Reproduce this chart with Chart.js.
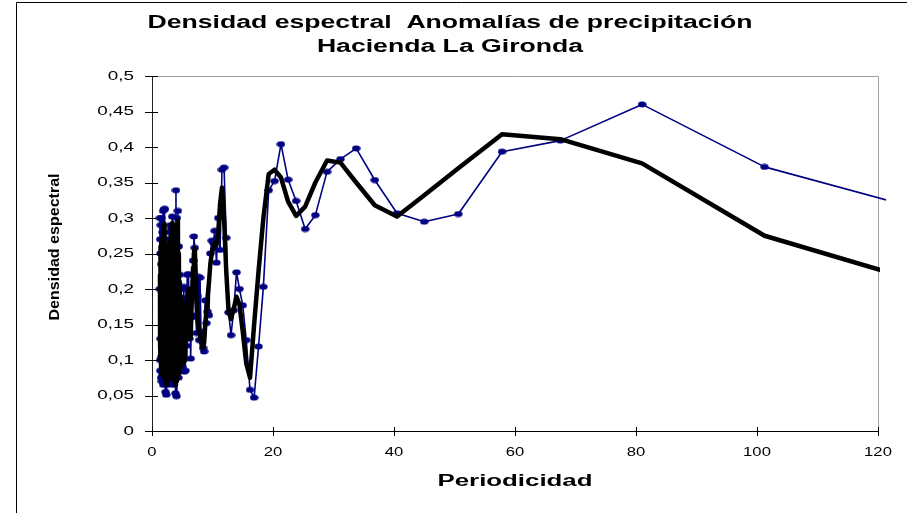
<!DOCTYPE html>
<html>
<head>
<meta charset="utf-8">
<title>Densidad espectral</title>
<script src="https://cdn.jsdelivr.net/npm/chart.js@4.4.1/dist/chart.umd.min.js"></script>
<style>
  html, body { margin: 0; padding: 0; background: #fff; }
  canvas { display: block; }
</style>
</head>
<body>
<canvas id="espectro" width="907" height="513"></canvas>
<script>
// Periodicidad (eje X) de cada estimación espectral
const periodicidad = [
    1.30, 1.32, 1.34, 1.36, 1.38, 1.40, 1.43, 1.46, 1.49, 1.52, 1.55, 1.58,
    1.62, 1.66, 1.70, 1.74, 1.78, 1.82, 1.86, 1.90,
    1.95, 2.00, 2.05, 2.10, 2.15, 2.20, 2.25, 2.30,
    2.36, 2.42, 2.48, 2.54, 2.60, 2.66, 2.72, 2.78,
    2.85, 2.92, 2.99, 3.06, 3.13, 3.20, 3.27, 3.34, 3.41, 3.48,
    3.56, 3.64, 3.72, 3.80, 3.88, 3.96, 4.04, 4.12, 4.20, 4.28, 4.36, 4.44, 4.52, 4.60, 4.68, 4.76, 4.84, 4.92, 5.00,
    5.08, 5.16, 5.25, 5.34, 5.43, 5.52, 5.62, 5.72, 5.82, 5.93,
    6.04, 6.15, 6.27, 6.39, 6.52, 6.65, 6.79, 6.92, 7.07, 7.23,
    7.36, 7.50, 7.68, 7.79, 7.94, 8.10, 8.26, 8.44, 8.62, 8.80,
    9.00, 9.20, 9.42, 9.64, 9.88,
    10.13, 10.38, 10.66, 10.95, 11.25, 11.57, 11.91, 12.27, 12.66, 13.06,
    13.5, 13.97, 14.46, 15.0, 15.58, 16.2, 16.88, 17.61, 18.41, 19.29,
    20.25, 21.32, 22.5, 23.82, 25.31, 27.0, 28.93, 31.15, 33.75, 36.82,
    40.5, 45.0, 50.63, 57.86, 67.5, 81.0, 101.25, 135.0
];

// Densidad espectral (serie azul con marcadores)
const densidad = [
    0.20, 0.30, 0.10, 0.27, 0.085, 0.25, 0.13, 0.29, 0.075, 0.235, 0.105, 0.30,
    0.07, 0.215, 0.15, 0.28, 0.08, 0.31, 0.065, 0.26,
    0.12, 0.312, 0.09, 0.313, 0.07, 0.25, 0.055, 0.20,
    0.051, 0.23, 0.10, 0.27, 0.065, 0.24, 0.08, 0.26,
    0.12, 0.28, 0.07, 0.29, 0.09, 0.285, 0.075, 0.302, 0.10, 0.28,
    0.065, 0.27, 0.08, 0.26, 0.053, 0.339, 0.049, 0.30, 0.09, 0.31, 0.075, 0.26, 0.11, 0.22, 0.085, 0.20, 0.10, 0.17, 0.09,
    0.16, 0.10, 0.203, 0.0835, 0.187, 0.085, 0.20, 0.12, 0.22, 0.15,
    0.221, 0.13, 0.185, 0.102, 0.16, 0.20, 0.24, 0.274, 0.258, 0.163,
    0.138, 0.19, 0.217, 0.128, 0.216, 0.14, 0.128, 0.117, 0.112, 0.184,
    0.152, 0.168, 0.163, 0.25, 0.268,
    0.265, 0.282, 0.237, 0.30, 0.255, 0.368, 0.371, 0.272, 0.167, 0.135,
    0.17, 0.2235, 0.20, 0.177, 0.128, 0.058, 0.047, 0.119, 0.203, 0.339,
    0.352, 0.404, 0.354, 0.324, 0.2845, 0.304, 0.365, 0.383, 0.398, 0.3535,
    0.3066, 0.2948, 0.3056, 0.3934, 0.409, 0.46, 0.372, 0.294
];

// Densidad suavizada (línea negra gruesa)
const suavizada = [
    0.19, 0.22, 0.12, 0.24, 0.10, 0.23, 0.14, 0.26, 0.09, 0.22, 0.11, 0.27,
    0.08, 0.21, 0.15, 0.27, 0.09, 0.28, 0.075, 0.25,
    0.12, 0.29, 0.085, 0.292, 0.075, 0.24, 0.068, 0.19,
    0.065, 0.22, 0.10, 0.26, 0.07, 0.23, 0.08, 0.25,
    0.115, 0.265, 0.075, 0.275, 0.09, 0.28, 0.08, 0.293, 0.095, 0.29,
    0.07, 0.26, 0.08, 0.255, 0.065, 0.29, 0.07, 0.285, 0.09, 0.296, 0.08, 0.25, 0.105, 0.21, 0.09, 0.19, 0.10, 0.165, 0.095,
    0.15, 0.11, 0.18, 0.10, 0.17, 0.10, 0.18, 0.13, 0.19, 0.16,
    0.20, 0.15, 0.18, 0.13, 0.17, 0.20, 0.23, 0.25, 0.257, 0.22,
    0.18, 0.16, 0.15, 0.14, 0.135, 0.125, 0.12, 0.117, 0.125, 0.15,
    0.17, 0.19, 0.21, 0.235, 0.25,
    0.258, 0.265, 0.262, 0.28, 0.32, 0.343, 0.30, 0.225, 0.168, 0.158,
    0.172, 0.189, 0.178, 0.14, 0.095, 0.075, 0.15, 0.225, 0.30, 0.362,
    0.368, 0.357, 0.323, 0.303, 0.316, 0.35, 0.381, 0.378, 0.35, 0.318,
    0.302, 0.332, 0.37, 0.418, 0.411, 0.377, 0.275, 0.19
];

// Marcas de los ejes
const xTicks = [0, 20, 40, 60, 80, 100, 120];
const xTickLabels = ['0', '20', '40', '60', '80', '100', '120'];
const yTicks = [0, 0.05, 0.1, 0.15, 0.2, 0.25, 0.3, 0.35, 0.4, 0.45, 0.5];
const yTickLabels = ['0', '0,05', '0,1', '0,15', '0,2', '0,25', '0,3', '0,35', '0,4', '0,45', '0,5'];

const titleLines = ['Densidad espectral  Anomalías de precipitación', 'Hacienda La Gironda'];
const xTitle = 'Periodicidad';
const yTitle = 'Densidad espectral';

const FONT = 'Arial, "Liberation Sans", sans-serif';
const NAVY = '#000080';

// Excel-like stretched text
function wideText(ctx, text, x, y, sx, align, baseline) {
    ctx.save();
    ctx.translate(x, y);
    ctx.scale(sx, 1);
    ctx.textAlign = align;
    ctx.textBaseline = baseline;
    ctx.fillText(text, 0, 0);
    ctx.restore();
}

function fitScale(ctx, text, width) {
    return width / ctx.measureText(text).width;
}

// elliptic marker, as Excel draws them
function makeMarker() {
    const c = document.createElement('canvas');
    c.width = 9;
    c.height = 7;
    const g = c.getContext('2d');
    g.fillStyle = NAVY;
    g.beginPath();
    g.ellipse(4.5, 3.5, 4.2, 2.9, 0, 0, Math.PI * 2);
    g.fill();
    return c;
}

const excelLook = {
    id: 'excelLook',
    beforeDraw(chart) {
        const ctx = chart.ctx;
        ctx.save();
        ctx.fillStyle = '#fff';
        ctx.fillRect(0, 0, chart.width, chart.height);
        // outer chart frame
        ctx.strokeStyle = '#000';
        ctx.lineWidth = 1;
        ctx.beginPath();
        ctx.moveTo(16.5, chart.height);
        ctx.lineTo(16.5, 2.5);
        ctx.lineTo(chart.width, 2.5);
        ctx.stroke();
        ctx.restore();
    },
    beforeDatasetsDraw(chart) {
        const ctx = chart.ctx;
        const a = chart.chartArea;
        ctx.save();
        ctx.strokeStyle = '#a0a0a0';
        ctx.lineWidth = 1;
        ctx.beginPath();
        ctx.moveTo(Math.round(a.left) + 0.5, Math.round(a.top) + 0.5);
        ctx.lineTo(Math.round(a.right) + 0.5, Math.round(a.top) + 0.5);
        ctx.lineTo(Math.round(a.right) + 0.5, Math.round(a.bottom));
        ctx.stroke();
        ctx.restore();
    },
    afterDraw(chart) {
        const ctx = chart.ctx;
        const xs = chart.scales.x;
        const ys = chart.scales.y;
        const a = chart.chartArea;
        ctx.save();
        ctx.strokeStyle = '#000';
        ctx.fillStyle = '#000';
        ctx.lineWidth = 1;

        // cross tick marks
        ctx.beginPath();
        yTicks.forEach(v => {
            const py = Math.round(ys.getPixelForValue(v)) + 0.5;
            ctx.moveTo(a.left - 7, py);
            ctx.lineTo(a.left + 6, py);
        });
        xTicks.forEach(v => {
            const px = Math.round(xs.getPixelForValue(v)) + 0.5;
            ctx.moveTo(px, a.bottom - 4);
            ctx.lineTo(px, a.bottom + 5);
        });
        ctx.stroke();

        // tick labels
        ctx.font = '13px ' + FONT;
        yTicks.forEach((v, i) => {
            wideText(ctx, yTickLabels[i], a.left - 18, ys.getPixelForValue(v), 1.45, 'right', 'middle');
        });
        xTicks.forEach((v, i) => {
            wideText(ctx, xTickLabels[i], xs.getPixelForValue(v), a.bottom + 21, 1.28, 'center', 'middle');
        });

        // title
        ctx.font = 'bold 18px ' + FONT;
        const tsx = fitScale(ctx, titleLines[0], 605);
        wideText(ctx, titleLines[0], 450, 28, tsx, 'center', 'alphabetic');
        wideText(ctx, titleLines[1], 450, 52, tsx, 'center', 'alphabetic');

        // axis titles
        ctx.font = 'bold 16px ' + FONT;
        wideText(ctx, xTitle, (a.left + a.right) / 2, 486, fitScale(ctx, xTitle, 155), 'center', 'alphabetic');

        ctx.font = 'bold 15px ' + FONT;
        const ysx = fitScale(ctx, yTitle, 147);
        ctx.translate(59, 247);
        ctx.rotate(-Math.PI / 2);
        wideText(ctx, yTitle, 0, 0, ysx, 'center', 'alphabetic');
        ctx.restore();
    }
};

function initEspectro() {
    const canvas = document.getElementById('espectro');
    if (typeof Chart === 'undefined') {
        console.error('Chart.js no está cargado');
        return;
    }

    const puntosDensidad = periodicidad.map((p, i) => ({ x: p, y: densidad[i] }));
    const puntosSuavizada = periodicidad.map((p, i) => ({ x: p, y: suavizada[i] }));

    new Chart(canvas, {
        type: 'line',
        data: {
            datasets: [
                {
                    label: 'Suavizada',
                    data: puntosSuavizada,
                    borderColor: '#000',
                    borderWidth: 4.5,
                    borderJoinStyle: 'round',
                    pointRadius: 0,
                    tension: 0,
                    fill: false,
                    clip: { left: 2, top: 2, right: 2, bottom: 2 }
                },
                {
                    label: 'Densidad espectral',
                    data: puntosDensidad,
                    borderColor: NAVY,
                    borderWidth: 1.6,
                    borderJoinStyle: 'round',
                    pointStyle: makeMarker(),
                    pointRadius: 3,
                    tension: 0,
                    fill: false,
                    clip: { left: 2, top: 2, right: 8, bottom: 2 }
                }
            ]
        },
        options: {
            responsive: false,
            animation: false,
            devicePixelRatio: 1,
            layout: { padding: { top: 76, right: 29, left: 0, bottom: 0 } },
            plugins: {
                legend: { display: false },
                title: { display: false },
                tooltip: { enabled: false }
            },
            scales: {
                x: {
                    type: 'linear',
                    min: 0,
                    max: 120,
                    afterBuildTicks: s => { s.ticks = xTicks.map(v => ({ value: v })); },
                    afterFit: s => { s.height = 82; },
                    ticks: { display: false },
                    grid: { display: false },
                    border: { display: true, color: '#000', width: 1 }
                },
                y: {
                    type: 'linear',
                    min: 0,
                    max: 0.5,
                    afterBuildTicks: s => { s.ticks = yTicks.map(v => ({ value: v })); },
                    afterFit: s => { s.width = 152; },
                    ticks: { display: false },
                    grid: { display: false },
                    border: { display: true, color: '#222', width: 1 }
                }
            }
        },
        plugins: [excelLook]
    });
}

document.addEventListener('DOMContentLoaded', initEspectro);
</script>
</body>
</html>
